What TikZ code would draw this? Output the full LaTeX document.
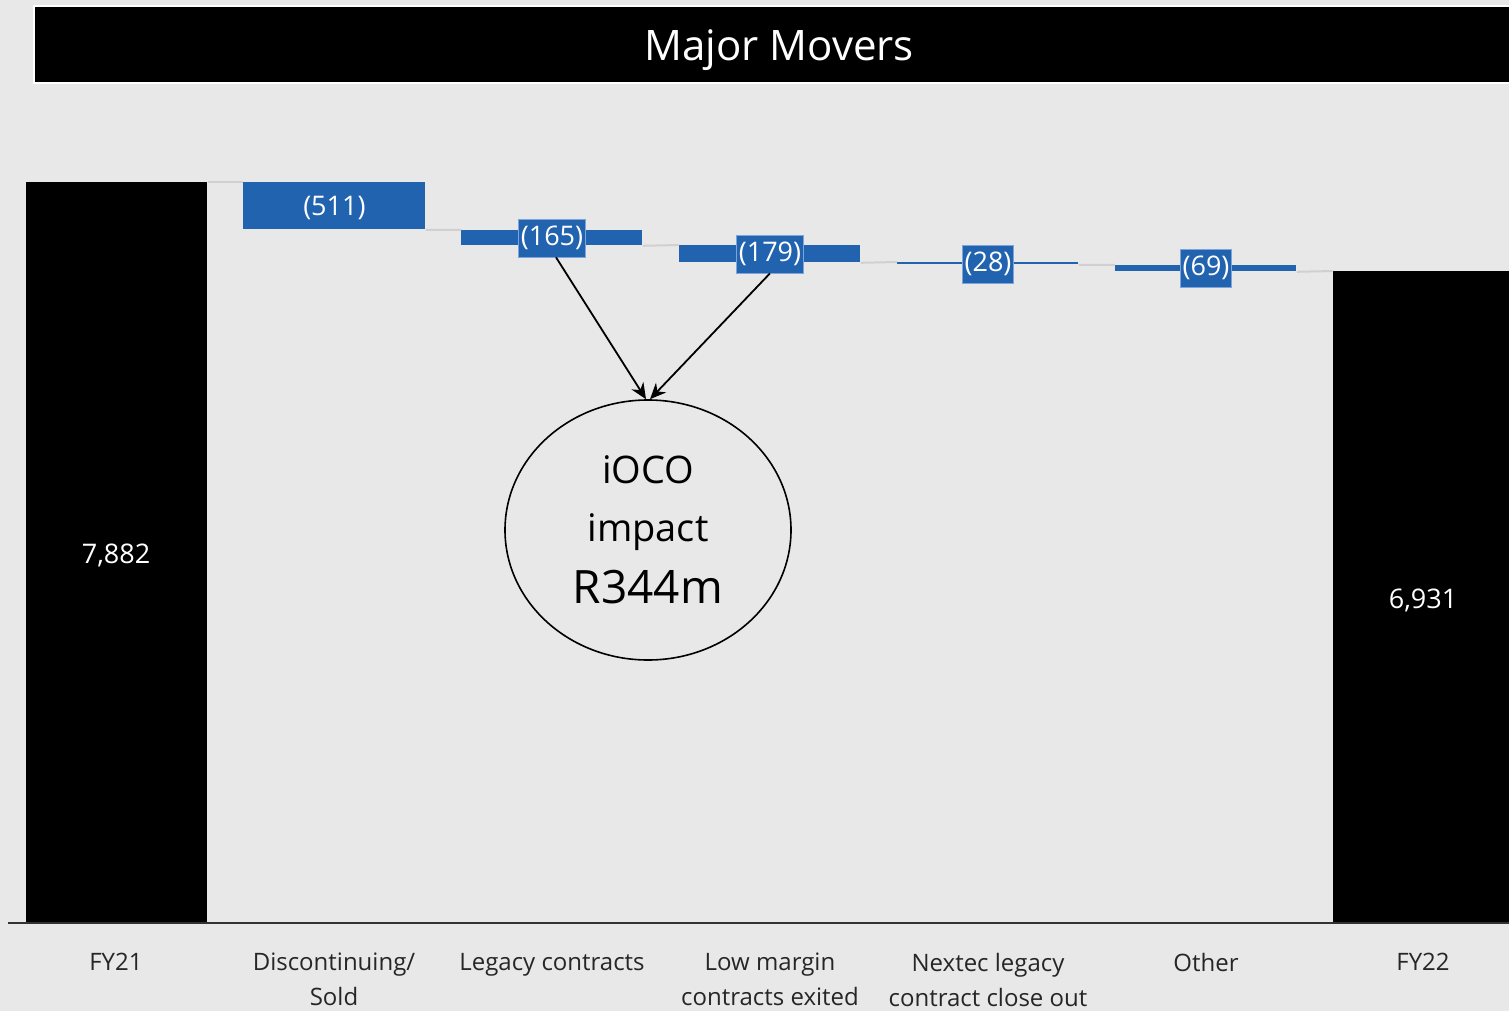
\documentclass[tikz,border=0pt]{standalone}
\usepackage{fontspec}
\setmainfont{Open Sans}
\usetikzlibrary{arrows.meta, shapes.geometric, positioning}
\definecolor{barblue}{RGB}{33,99,175}
\definecolor{tagedge}{RGB}{125,165,220}
\definecolor{panelgray}{RGB}{232,232,232}
\definecolor{linkgray}{RGB}{208,208,208}
\definecolor{axisgray}{RGB}{50,50,50}

\begin{document}
\begin{tikzpicture}[
    x=0.5pt, y=-0.5pt,
    totalbar/.style={rectangle, fill=black, inner sep=0pt, anchor=north west, minimum width=90.5pt},
    movebar/.style={rectangle, fill=barblue, inner sep=0pt, anchor=north west, minimum width=90.5pt},
    valtag/.style={rectangle, fill=barblue, draw=tagedge, line width=0.4pt, text=white, font=\fontsize{13.5}{15}\selectfont, inner xsep=1pt, inner ysep=3.5pt},
    catlabel/.style={align=center, anchor=north, font=\fontsize{12}{17.5}\selectfont, text=black!85},
    link/.style={draw=linkgray, line width=1pt},
    arrow/.style={-{Stealth[length=8pt, width=7pt]}, line width=0.9pt}
]
% panel and title
\fill[panelgray] (0,0) rectangle (1509,1011);
\useasboundingbox (0,0) rectangle (1509,1011);
\fill[white] (33,5) rectangle (1509,84);
\fill[black] (35,7) rectangle (1509,82);
\node[text=white, font=\fontsize{21}{26}\selectfont, anchor=base] (title) at (779,61) {Major Movers};

% bars
\node[totalbar, minimum height=370.5pt] (fy21) at (26,182) {};
\node[movebar, minimum height=23.5pt, minimum width=91pt] (disc) at (243,182) {};
\node[movebar, minimum height=7.5pt] (legacy) at (461,230) {};
\node[movebar, minimum height=8.5pt] (lowm) at (679,245) {};
\node[movebar, minimum height=1pt] (nextec) at (897,262) {};
\node[movebar, minimum height=3pt] (other) at (1115,265) {};
\node[totalbar, minimum height=326pt, minimum width=88pt] (fy22) at (1333,271) {};

% links between bars
\draw[link] (fy21.north east) -- (disc.north west);
\draw[link] (disc.south east) -- (legacy.north west);
\draw[link] (legacy.south east) -- (lowm.north west);
\draw[link] (lowm.south east) -- (nextec.north west);
\draw[link] (nextec.south east) -- (other.north west);
\draw[link] (other.south east) -- (fy22.north west);

% axis
\draw[axisgray, line width=1pt] (8,923) -- (1509,923);

% values
\node[text=white, font=\fontsize{13.5}{15}\selectfont] (v7882) at (116,555) {7,882};
\node[text=white, font=\fontsize{13.5}{15}\selectfont] (v6931) at (1423,600) {6,931};
\node[text=white, font=\fontsize{13.5}{15}\selectfont] (v511) at ([yshift=-1pt]disc.center) {(511)};
\node[valtag] (v165) at (552,238) {(165)};
\node[valtag] (v179) at (770,254) {(179)};
\node[valtag] (v28) at (988,264) {(28)};
\node[valtag] (v69) at (1206,268) {(69)};

% categories
\foreach \x/\txt [count=\i] in {116/FY21, 334/Discontinuing\slash\\Sold, 552/Legacy contracts,
    770/Low margin\\contracts exited, 988/Nextec legacy\\contract close out, 1206/Other, 1423/FY22} {
    \node[catlabel] (cat\i) at (\x,946) {\txt};
}

% iOCO impact
\node[ellipse, draw=black, line width=0.8pt, minimum width=143pt, minimum height=130pt, align=center,
      font=\fontsize{19}{29}\selectfont, inner sep=0pt] (ioco) at (648,530)
      {iOCO\\impact\\[2pt]{\fontsize{23}{29}\selectfont R344m}};
\draw[arrow] ([xshift=2pt]v165.south) -- ([xshift=-1pt]ioco.north);
\draw[arrow] (v179.south) -- ([xshift=1pt]ioco.north);
\end{tikzpicture}
\end{document}
